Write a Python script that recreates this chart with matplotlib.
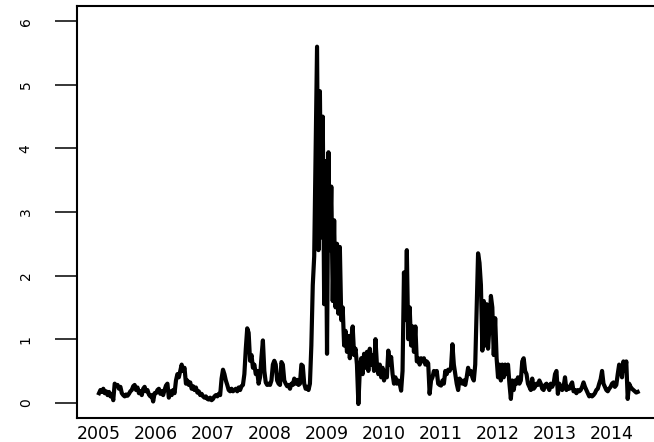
import numpy as np
import matplotlib
matplotlib.use("Agg")
import matplotlib.pyplot as plt

# values, 40 samples per year (2014 stops mid-year)
v2005 = [0.15, 0.2, 0.17, 0.22, 0.15, 0.18, 0.12, 0.17, 0.1, 0.14,
         0.04, 0.3, 0.27, 0.28, 0.22, 0.25, 0.15, 0.12, 0.1, 0.13,
         0.11, 0.14, 0.18, 0.2, 0.26, 0.28, 0.2, 0.24, 0.15, 0.18,
         0.12, 0.22, 0.25, 0.18, 0.2, 0.13, 0.1, 0.12, 0.02, 0.15]
v2006 = [0.15, 0.2, 0.22, 0.14, 0.18, 0.12, 0.2, 0.27, 0.3, 0.08,
         0.18, 0.12, 0.2, 0.15, 0.35, 0.45, 0.4, 0.5, 0.6, 0.5,
         0.55, 0.3, 0.35, 0.28, 0.32, 0.22, 0.26, 0.2, 0.24, 0.16,
         0.18, 0.12, 0.14, 0.1, 0.08, 0.1, 0.06, 0.05, 0.08, 0.04]
v2007 = [0.06, 0.1, 0.12, 0.1, 0.14, 0.12, 0.38, 0.52, 0.45, 0.35,
         0.28, 0.2, 0.18, 0.22, 0.18, 0.2, 0.22, 0.18, 0.24, 0.2,
         0.26, 0.28, 0.45, 0.85, 1.17, 1.1, 0.66, 0.75, 0.55, 0.6,
         0.45, 0.5, 0.3, 0.4, 0.72, 0.98, 0.5, 0.32, 0.28, 0.3]
v2008 = [0.28, 0.35, 0.6, 0.66, 0.6, 0.35, 0.3, 0.28, 0.64, 0.6,
         0.35, 0.3, 0.26, 0.28, 0.22, 0.3, 0.28, 0.38, 0.3, 0.36,
         0.28, 0.3, 0.6, 0.58, 0.3, 0.22, 0.25, 0.2, 0.3, 0.9,
         1.85, 2.3, 3.9, 5.6, 2.4, 4.9, 2.6, 4.5, 1.55, 3.8]
v2009 = [0.77, 3.94, 2.4, 3.4, 1.6, 2.87, 1.5, 2.5, 1.4, 2.45,
         1.3, 1.5, 0.9, 1.13, 0.8, 1.05, 0.7, 1.0, 1.2, 0.75,
         0.85, 0.6, -0.02, 0.5, 0.7, 0.45, 0.77, 0.55, 0.8, 0.5,
         0.85, 0.6, 0.75, 0.5, 1.0, 0.6, 0.45, 0.6, 0.4, 0.55]
v2010 = [0.35, 0.5, 0.4, 0.82, 0.6, 0.72, 0.45, 0.3, 0.4, 0.3,
         0.35, 0.3, 0.19, 0.5, 2.05, 1.3, 2.4, 1.0, 1.5, 0.9,
         1.2, 0.8, 1.2, 0.65, 0.7, 0.6, 0.7, 0.65, 0.7, 0.6,
         0.65, 0.62, 0.14, 0.35, 0.4, 0.5, 0.45, 0.5, 0.3, 0.28]
v2011 = [0.27, 0.35, 0.3, 0.5, 0.45, 0.52, 0.5, 0.55, 0.92, 0.6,
         0.45, 0.3, 0.2, 0.38, 0.35, 0.3, 0.35, 0.28, 0.4, 0.55,
         0.45, 0.5, 0.4, 0.35, 0.6, 1.45, 2.35, 2.2, 1.85, 0.82,
         1.6, 0.9, 1.55, 0.85, 1.2, 1.68, 1.5, 0.75, 1.33, 0.7]
v2012 = [0.4, 0.6, 0.35, 0.6, 0.4, 0.6, 0.45, 0.6, 0.3, 0.06,
         0.35, 0.2, 0.35, 0.3, 0.4, 0.3, 0.35, 0.65, 0.7, 0.5,
         0.45, 0.3, 0.25, 0.2, 0.38, 0.22, 0.25, 0.3, 0.28, 0.35,
         0.3, 0.22, 0.2, 0.28, 0.3, 0.25, 0.2, 0.3, 0.25, 0.3]
v2013 = [0.45, 0.5, 0.14, 0.3, 0.25, 0.2, 0.25, 0.4, 0.2, 0.25,
         0.22, 0.28, 0.32, 0.18, 0.2, 0.15, 0.2, 0.18, 0.2, 0.25,
         0.32, 0.25, 0.2, 0.15, 0.1, 0.12, 0.1, 0.12, 0.15, 0.2,
         0.22, 0.3, 0.37, 0.5, 0.3, 0.25, 0.2, 0.18, 0.22, 0.25]
v2014 = [0.3, 0.32, 0.25, 0.28, 0.45, 0.6, 0.55, 0.4, 0.65, 0.5,
         0.65, 0.06, 0.3, 0.25, 0.22, 0.2, 0.18, 0.16, 0.17]

years = list(range(2005, 2015))
year_labels = [str(y) for y in years]
y_ticks = [0, 1, 2, 3, 4, 5, 6]

values = np.array(v2005 + v2006 + v2007 + v2008 + v2009 +
                  v2010 + v2011 + v2012 + v2013 + v2014)
dates = 2005 + np.arange(len(values)) / 40.0

fig = plt.figure(figsize=(6.54, 4.42), dpi=100)
ax = fig.add_axes([76.5 / 654, 24 / 442, 582.5 / 654, 412 / 442])

ax.plot(dates, values, color='black', lw=3.0)

ax.set_xlim(2004.605, 2014.824)
ax.set_ylim(-0.24, 6.24)

ax.set_xticks(years)
ax.set_xticklabels(year_labels)
ax.tick_params(axis='x', length=0, pad=5, labelsize=12.5)

ax.set_yticks(y_ticks)
ax.set_yticklabels([str(t) for t in y_ticks], rotation=90, va='center')
ax.tick_params(axis='y', length=15.5, width=1.1, pad=16, labelsize=10)

for s in ax.spines.values():
    s.set_linewidth(1.5)

fig.savefig("out.png", dpi=100)
